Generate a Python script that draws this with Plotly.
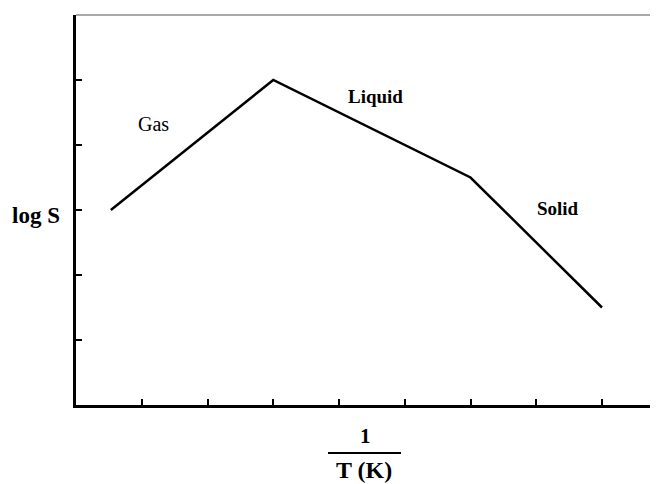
import plotly.graph_objects as go

# Data (in axis units: one unit per tick)
x_vals = [0.53, 3.0, 6.0, 8.0]
y_vals = [3.0, 5.0, 3.5, 1.5]

phase_labels = ["Gas", "Liquid", "Solid"]
phase_x = [1.18, 4.56, 7.33]
phase_y = [4.33, 4.75, 3.02]
phase_bold = [False, True, True]

x_ticks = [1, 2, 3, 4, 5, 6, 7, 8]
y_ticks = [1, 2, 3, 4, 5, 6]

SERIF = "Liberation Serif"

# page has an 8px body margin; compensate so the plot sits where the reference has it
OFF = 8
W, H = 658 - OFF, 484 - OFF
L, T = 76 - OFF, 15 - OFF
B = H - (405 - OFF)
PW, PH = W - L, (405 - OFF) - T


def px(X):
    return (X - 76) / PW


def py(Y):
    return (405 - Y) / PH


fig = go.Figure()
fig.add_trace(go.Scatter(x=x_vals, y=y_vals, mode="lines",
                         line=dict(color="black", width=2.5), showlegend=False,
                         hoverinfo="skip"))

for lab, lx, ly, b in zip(phase_labels, phase_x, phase_y, phase_bold):
    fig.add_annotation(x=lx, y=ly, xref="x", yref="y",
                       text=f"<b>{lab}</b>" if b else lab, showarrow=False,
                       font=dict(family=SERIF, size=19 if b else 20, color="black"),
                       xanchor="center", yanchor="middle")

# y-axis label
fig.add_annotation(x=px(36), y=py(216), xref="paper", yref="paper",
                   text="<b>log S</b>", showarrow=False,
                   font=dict(family=SERIF, size=23, color="black"),
                   xanchor="center", yanchor="middle")
# x-axis label as fraction
fig.add_annotation(x=px(365), y=py(436), xref="paper", yref="paper",
                   text="<b>1</b>", showarrow=False,
                   font=dict(family=SERIF, size=21, color="black"),
                   xanchor="center", yanchor="middle")
fig.add_annotation(x=px(364), y=py(470), xref="paper", yref="paper",
                   text="<b>T (K)</b>", showarrow=False,
                   font=dict(family=SERIF, size=24, color="black"),
                   xanchor="center", yanchor="middle")
fig.add_shape(type="line", xref="paper", yref="paper",
              x0=px(328), x1=px(401), y0=py(453), y1=py(453),
              line=dict(color="black", width=2))
# thin top border
fig.add_shape(type="line", xref="paper", yref="paper", x0=0, x1=1, y0=1, y1=1,
              line=dict(color="#8c8c8c", width=1.5))

fig.update_xaxes(range=[0, PW / 65.75], tickvals=x_ticks, ticks="inside",
                 ticklen=6, tickwidth=2, tickcolor="black", showticklabels=False,
                 showline=True, linecolor="black", linewidth=3, showgrid=False,
                 zeroline=False, mirror=False)
fig.update_yaxes(range=[0, 6], tickvals=y_ticks, ticks="inside",
                 ticklen=6, tickwidth=2, tickcolor="black", showticklabels=False,
                 showline=True, linecolor="black", linewidth=3, showgrid=False,
                 zeroline=False)

fig.update_layout(width=W, height=H, margin=dict(l=L, r=0, t=T, b=B),
                  plot_bgcolor="white", paper_bgcolor="white")

fig.write_html("out.html")
